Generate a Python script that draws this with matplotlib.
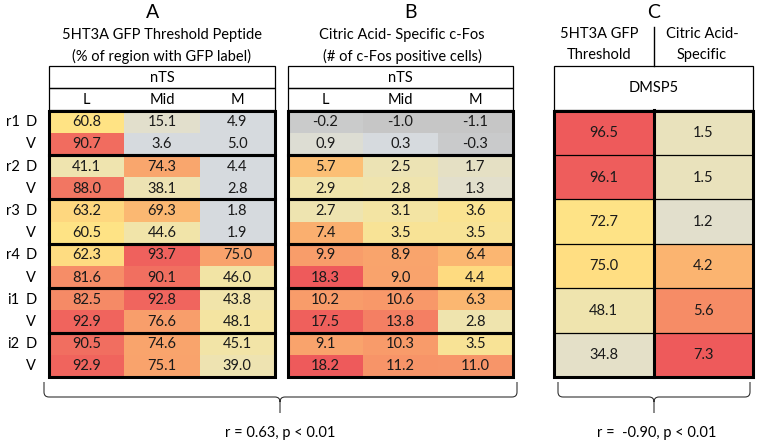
import numpy as np
import matplotlib
matplotlib.use("Agg")
import matplotlib.pyplot as plt
from matplotlib.colors import LinearSegmentedColormap
from matplotlib.path import Path
from matplotlib.patches import PathPatch, Rectangle

# Data
regions = ['r1', 'r2', 'r3', 'r4', 'i1', 'i2']
sides = ['D', 'V']
cols = ['L', 'Mid', 'M']

gfp_ts = np.array([
    [60.8, 15.1, 4.9],
    [90.7, 3.6, 5.0],
    [41.1, 74.3, 4.4],
    [88.0, 38.1, 2.8],
    [63.2, 69.3, 1.8],
    [60.5, 44.6, 1.9],
    [62.3, 93.7, 75.0],
    [81.6, 90.1, 46.0],
    [82.5, 92.8, 43.8],
    [92.9, 76.6, 48.1],
    [90.5, 74.6, 45.1],
    [92.9, 75.1, 39.0],
])
cfos_ts = np.array([
    [-0.2, -1.0, -1.1],
    [0.9, 0.3, -0.3],
    [5.7, 2.5, 1.7],
    [2.9, 2.8, 1.3],
    [2.7, 3.1, 3.6],
    [7.4, 3.5, 3.5],
    [9.9, 8.9, 6.4],
    [18.3, 9.0, 4.4],
    [10.2, 10.6, 6.3],
    [17.5, 13.8, 2.8],
    [9.1, 10.3, 3.5],
    [18.2, 11.2, 11.0],
])
gfp_dmsp5 = np.array([96.5, 96.1, 72.7, 75.0, 48.1, 34.8])
cfos_dmsp5 = np.array([1.5, 1.5, 1.2, 4.2, 5.6, 7.3])

# colour scale (grey -> beige -> yellow -> orange -> red)
cmap = LinearSegmentedColormap.from_list('heat', [
    (0.00, '#c6c6c6'), (0.12, '#d6dade'), (0.25, '#e2dfcc'), (0.40, '#efe4ae'),
    (0.55, '#ffe384'), (0.72, '#fbb470'), (0.82, '#f89b6a'), (1.00, '#ee5a5b')])

def scale(v, anchors, pos):
    return np.interp(v, anchors, pos)

plt.rcParams['font.family'] = ['Lato', 'DejaVu Sans']
fig = plt.figure(figsize=(7.6, 4.44), dpi=100)
ax = fig.add_axes([0, 0, 1, 1])
ax.set_xlim(0, 760)
ax.set_ylim(444, 0)
ax.axis('off')

fs = 10.5
top = 110.5
rh = 22.2
nrow = len(regions) * 2
bottom = top + rh * nrow
ybounds = top + rh * np.arange(nrow + 1)

def draw_table(x0, x1, vals, pos):
    xb = np.linspace(x0, x1, 4)
    ax.pcolormesh(xb, ybounds, pos, cmap=cmap, vmin=0, vmax=1, zorder=1)
    xc = (xb[:-1] + xb[1:]) / 2
    yc = (ybounds[:-1] + ybounds[1:]) / 2
    for i in range(nrow):
        for j in range(3):
            ax.text(xc[j], yc[i] + 0.5, f'{vals[i, j]:.1f}', ha='center', va='center', fontsize=fs, color='#1a1a1a')
    # header boxes
    ax.add_patch(Rectangle((x0, 66), x1 - x0, 22, fill=False, lw=0.9, ec='black', zorder=3))
    ax.add_patch(Rectangle((x0, 88), x1 - x0, top - 88, fill=False, lw=0.9, ec='black', zorder=3))
    ax.text((x0 + x1) / 2, 77.5, 'nTS', ha='center', va='center', fontsize=fs)
    for j, c in enumerate(cols):
        ax.text(xc[j], 99.5, c, ha='center', va='center', fontsize=fs)
    # group borders
    for g in range(len(regions)):
        ax.add_patch(Rectangle((x0, ybounds[2 * g]), x1 - x0, 2 * rh, fill=False, lw=2.2, ec='black', zorder=4))

# Panel A
xa0, xa1 = 49, 275
pa = scale(gfp_ts, [0, 5, 15, 42, 61, 70, 76, 96], [0.12, 0.12, 0.25, 0.40, 0.55, 0.72, 0.80, 1.0])
draw_table(xa0, xa1, gfp_ts, pa)
ax.text(153, 13, 'A', ha='center', va='center', fontsize=14)
ax.text(162, 35, '5HT3A GFP Threshold Peptide', ha='center', va='center', fontsize=fs)
ax.text(162, 56, '(% of region with GFP label)', ha='center', va='center', fontsize=fs)

# Panel B
xb0, xb1 = 288, 513
pb = scale(cfos_ts, [-1.1, -0.2, 0.3, 1.3, 2.8, 4.0, 6.0, 9.5, 18.3],
           [0.0, 0.03, 0.12, 0.25, 0.40, 0.55, 0.70, 0.80, 1.0])
draw_table(xb0, xb1, cfos_ts, pb)
ax.text(410, 13, 'B', ha='center', va='center', fontsize=14)
ax.text(402, 35, 'Citric Acid- Specific c-Fos', ha='center', va='center', fontsize=fs)
ax.text(402, 56, '(# of c-Fos positive cells)', ha='center', va='center', fontsize=fs)

# row labels
for g, r in enumerate(regions):
    y_d = (ybounds[2 * g] + ybounds[2 * g + 1]) / 2
    y_v = (ybounds[2 * g + 1] + ybounds[2 * g + 2]) / 2
    ax.text(13, y_d + 0.5, r, ha='center', va='center', fontsize=fs)
    ax.text(31, y_d + 0.5, sides[0], ha='center', va='center', fontsize=fs)
    ax.text(31, y_v + 0.5, sides[1], ha='center', va='center', fontsize=fs)

# Panel C
xc0, xc1 = 554, 753
xm = (xc0 + xc1) / 2
crh = (bottom - top) / len(gfp_dmsp5)
cy = top + crh * np.arange(len(gfp_dmsp5) + 1)
pc = np.column_stack([
    scale(gfp_dmsp5, [34.8, 48.1, 74, 96.5], [0.27, 0.40, 0.55, 1.0]),
    scale(cfos_dmsp5, [1.2, 1.5, 4.2, 5.6, 7.3], [0.25, 0.33, 0.72, 0.86, 1.0])])
ax.pcolormesh([xc0, xm, xc1], cy, pc, cmap=cmap, vmin=0, vmax=1, zorder=1)
for i in range(len(gfp_dmsp5)):
    yy = (cy[i] + cy[i + 1]) / 2 + 0.5
    ax.text((xc0 + xm) / 2, yy, f'{gfp_dmsp5[i]:.1f}', ha='center', va='center', fontsize=fs, color='#1a1a1a')
    ax.text((xm + xc1) / 2, yy, f'{cfos_dmsp5[i]:.1f}', ha='center', va='center', fontsize=fs, color='#1a1a1a')
    if i > 0:
        ax.plot([xc0, xc1], [cy[i], cy[i]], color='black', lw=0.9, zorder=3)
ax.add_patch(Rectangle((xc0, top), xc1 - xc0, bottom - top, fill=False, lw=2.2, ec='black', zorder=4))
ax.plot([xm, xm], [top, bottom], color='black', lw=2.2, zorder=4)
ax.add_patch(Rectangle((xc0, 66), xc1 - xc0, top - 66, fill=False, lw=0.9, ec='black', zorder=3))
ax.text(xm, 88, 'DMSP5', ha='center', va='center', fontsize=fs)
ax.text(xm, 13, 'C', ha='center', va='center', fontsize=14)
ax.plot([xm, xm], [27, 66], color='black', lw=1.0)
ax.text(599, 34, '5HT3A GFP', ha='center', va='center', fontsize=fs)
ax.text(599, 55, 'Threshold', ha='center', va='center', fontsize=fs)
ax.text(702, 34, 'Citric Acid-', ha='center', va='center', fontsize=fs)
ax.text(702, 55, 'Specific', ha='center', va='center', fontsize=fs)

# curly braces
def brace(x0, x1, xt, y0=382, y1=397, y2=413, r=5):
    verts = [(x0, y0), (x0, y1 - r), (x0, y1), (x0 + r, y1), (xt - r, y1), (xt, y1), (xt, y1 + r), (xt, y2),
             (xt, y1 + r), (xt, y1), (xt + r, y1), (x1 - r, y1), (x1, y1), (x1, y1 - r), (x1, y0)]
    codes = [Path.MOVETO, Path.LINETO, Path.CURVE3, Path.CURVE3, Path.LINETO, Path.CURVE3, Path.CURVE3, Path.LINETO,
             Path.MOVETO, Path.CURVE3, Path.CURVE3, Path.LINETO, Path.CURVE3, Path.CURVE3, Path.LINETO]
    ax.add_patch(PathPatch(Path(verts, codes), fill=False, lw=0.8, ec='#333333'))

brace(44, 517, 280)
ax.text(280, 433, 'r = 0.63, p < 0.01', ha='center', va='center', fontsize=fs)
brace(558, 750, 654)
ax.text(657, 433, 'r =  -0.90, p < 0.01', ha='center', va='center', fontsize=fs)

fig.savefig('out.png', dpi=100)
